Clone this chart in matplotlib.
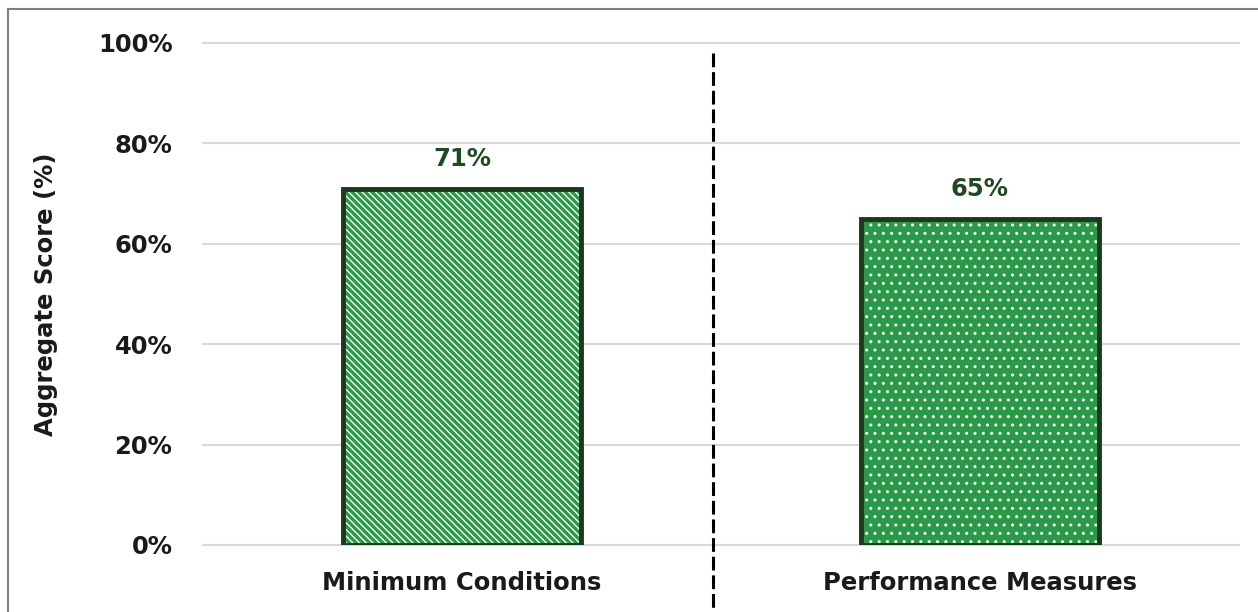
import matplotlib
matplotlib.use('Agg')
import matplotlib.pyplot as plt
from matplotlib.lines import Line2D

# Data
categories = ['Minimum Conditions', 'Performance Measures']
scores = [71, 65]
bar_labels = ['71%', '65%']
y_ticks = [0, 20, 40, 60, 80, 100]
y_tick_labels = ['0%', '20%', '40%', '60%', '80%', '100%']

green = '#2b9a48'
dark_green = '#1a3a1e'
label_green = '#1f4a22'
text_col = '#1a1a1a'
fs = 17.5

plt.rcParams['font.family'] = ['DejaVu Sans']

fig = plt.figure(figsize=(12.58, 6.12), dpi=100)
ax = fig.add_axes([203 / 1258, 1 - 545 / 612, (1239 - 203) / 1258, (545 - 43) / 612])

x = list(range(len(categories)))
width = 0.46

# Hatched fills (no outline), then outline on top
with plt.rc_context({'hatch.linewidth': 2.4}):
    ax.bar(x[0], scores[0], width=width, color='white', edgecolor=green, hatch='\\\\\\\\\\',
           linewidth=0, zorder=3)
with plt.rc_context({'hatch.linewidth': 1.0}):
    ax.bar(x[1], scores[1], width=width, color=green, edgecolor='white', hatch='..',
           linewidth=0, zorder=3)
ax.bar(x, scores, width=width, fill=False, edgecolor=dark_green, linewidth=3.5, zorder=4)

for xi, s, lab in zip(x, scores, bar_labels):
    ax.text(xi, s + 3.5, lab, ha='center', va='bottom', fontsize=fs, fontweight='bold',
            color=label_green)

ax.set_xlim(-0.5, 1.5)
ax.set_ylim(0, 100)
ax.set_yticks(y_ticks)
ax.set_yticklabels(y_tick_labels, fontsize=fs, fontweight='bold', color=text_col)
ax.set_xticks(x)
ax.set_xticklabels(categories, fontsize=fs, fontweight='bold', color=text_col)
ax.tick_params(axis='y', length=0, pad=22)
ax.tick_params(axis='x', length=0, pad=19)
ax.set_ylabel('Aggregate Score (%)', fontsize=fs, fontweight='bold', color=text_col,
              labelpad=29)

ax.grid(axis='y', color='#d9d9d9', linewidth=1.5, zorder=0)
ax.set_axisbelow(True)
for gl in ax.yaxis.get_gridlines():
    gl.set_clip_on(False)
for sp in ax.spines.values():
    sp.set_visible(False)

# Dashed divider between the two groups
ax.plot([0.485, 0.485], [98, -13], color='black', linestyle=(0, (4.5, 1.6)), linewidth=2.2,
        clip_on=False, zorder=5)

# Frame around the figure (left and top visible)
fig.add_artist(Line2D([8 / 1258, 8 / 1258], [0, 1 - 9 / 612], transform=fig.transFigure,
                      color='#7f7f7f', linewidth=1.5))
fig.add_artist(Line2D([8 / 1258, 1], [1 - 9 / 612, 1 - 9 / 612], transform=fig.transFigure,
                      color='#7f7f7f', linewidth=1.5))

fig.savefig('out.png', dpi=100)
